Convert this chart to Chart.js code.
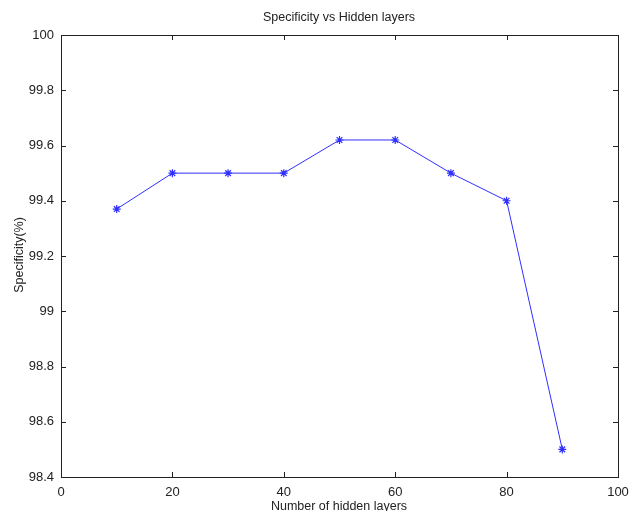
<!DOCTYPE html>
<html>
<head>
<meta charset="utf-8">
<script src="https://cdn.jsdelivr.net/npm/chart.js@4"></script>
<style>
  html, body { margin: 0; padding: 0; background: #fff; }
  #wrap { width: 632px; height: 511px; }
</style>
</head>
<body>
<div id="wrap"><canvas id="chart" width="632" height="511"></canvas></div>
<script>
const hiddenLayers = [10, 20, 30, 40, 50, 60, 70, 80, 90];
const specificity = [99.37, 99.5, 99.5, 99.5, 99.62, 99.62, 99.5, 99.4, 98.5];
const xTicks = [0, 20, 40, 60, 80, 100];
const yTicks = [98.4, 98.6, 98.8, 99, 99.2, 99.4, 99.6, 99.8, 100];

const FONT = '"Liberation Sans", Arial, sans-serif';

// box, inward ticks on all sides, title and axis labels
const framePlugin = {
    id: 'frame',
    afterDraw(chart) {
        const { ctx, chartArea: a, scales } = chart;
        ctx.save();
        ctx.strokeStyle = '#222';
        ctx.lineWidth = 1;
        ctx.strokeRect(Math.round(a.left) + 0.5, Math.round(a.top) + 0.5,
            Math.round(a.right - a.left), Math.round(a.bottom - a.top));
        ctx.beginPath();
        xTicks.forEach(v => {
            const x = Math.round(scales.x.getPixelForValue(v)) + 0.5;
            ctx.moveTo(x, a.bottom); ctx.lineTo(x, a.bottom - 5);
            ctx.moveTo(x, a.top); ctx.lineTo(x, a.top + 5);
        });
        yTicks.forEach(v => {
            const y = Math.round(scales.y.getPixelForValue(v)) + 0.5;
            ctx.moveTo(a.left, y); ctx.lineTo(a.left + 5, y);
            ctx.moveTo(a.right, y); ctx.lineTo(a.right - 5, y);
        });
        ctx.stroke();

        ctx.fillStyle = '#222';
        ctx.font = '12.5px ' + FONT;
        ctx.textAlign = 'center';
        ctx.textBaseline = 'middle';
        ctx.fillText('Specificity vs Hidden layers', 339, 18);
        ctx.fillText('Number of hidden layers', 339, 507);
        ctx.translate(20, 255);
        ctx.rotate(-Math.PI / 2);
        ctx.fillText('Specificity(%)', 0, 0);
        ctx.restore();
    }
};

new Chart(document.getElementById('chart'), {
    type: 'line',
    data: {
        datasets: [{
            data: hiddenLayers.map((x, i) => ({ x, y: specificity[i] })),
            borderColor: '#2f2fff',
            backgroundColor: '#2f2fff',
            borderWidth: 1,
            pointStyle: 'star',
            pointRadius: 4,
            pointBorderWidth: 1.2,
            tension: 0
        }]
    },
    options: {
        responsive: false,
        animation: false,
        layout: { padding: { top: 35, right: 14, left: 0, bottom: 0 } },
        plugins: { legend: { display: false }, tooltip: { enabled: false } },
        scales: {
            x: {
                type: 'linear',
                min: 0, max: 100,
                afterFit: s => { s.height = 34; s.paddingLeft = 0; s.paddingRight = 0; },
                afterBuildTicks: s => { s.ticks = xTicks.map(value => ({ value })); },
                grid: { display: false, drawTicks: false },
                border: { display: false },
                ticks: { color: '#222', padding: 8, font: { family: FONT, size: 13 } }
            },
            y: {
                type: 'linear',
                min: 98.4, max: 100,
                afterFit: s => { s.width = 61; s.paddingTop = 0; s.paddingBottom = 0; },
                afterBuildTicks: s => { s.ticks = yTicks.map(value => ({ value })); },
                grid: { display: false, drawTicks: false },
                border: { display: false },
                ticks: {
                    color: '#222', padding: 7, font: { family: FONT, size: 13 },
                    callback: v => String(+v.toFixed(1))
                }
            }
        }
    },
    plugins: [framePlugin]
});
</script>
</body>
</html>
